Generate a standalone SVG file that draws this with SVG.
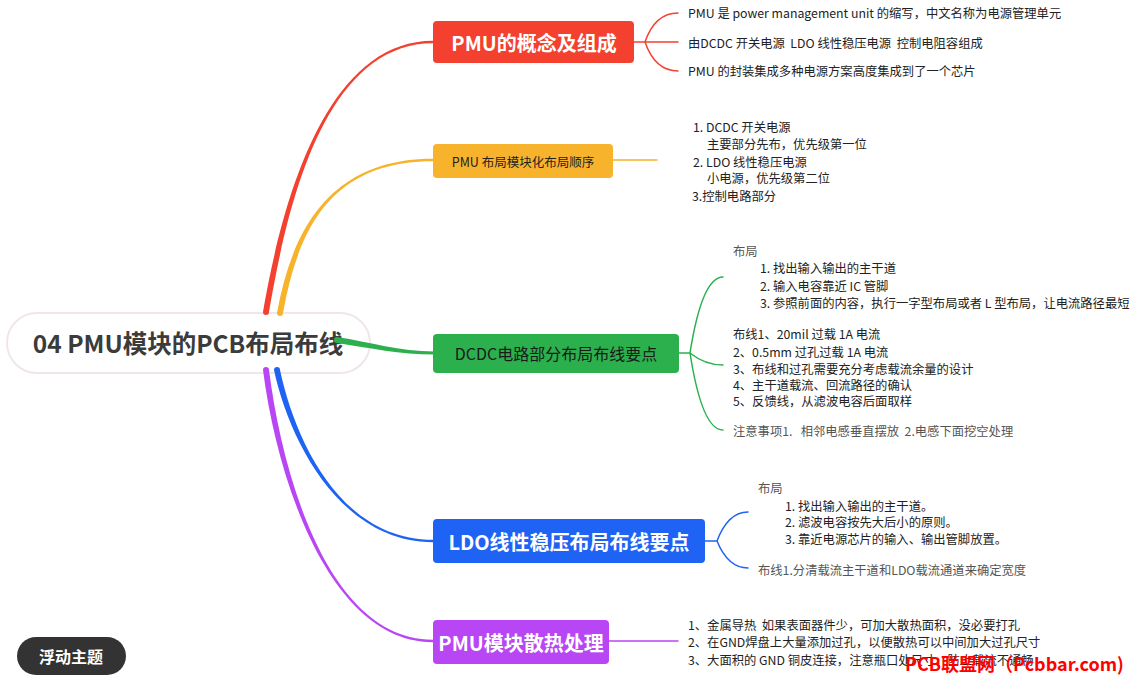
<svg xmlns="http://www.w3.org/2000/svg" width="1135" height="678" viewBox="0 0 1135 678">
<style>
text{font-family:'Noto Sans CJK SC','Noto Sans',sans-serif;dominant-baseline:central;white-space:pre}
.s{font-size:12.3px;fill:#222}
.h{font-size:12.3px;fill:#555}
.nt{font-size:20px;font-weight:bold;fill:#fff;text-anchor:middle}
.sub{fill:none;stroke-width:1.5;stroke-linecap:round}
</style>
<rect width="1135" height="678" fill="#fff"/>
<g id="central">
<rect x="7" y="313" width="363" height="60" rx="30" fill="#fff" stroke="#efe6e8" stroke-width="2"/>
<text x="188" y="342" font-size="24.5" font-weight="bold" fill="#3b3b3b" text-anchor="middle">04 PMU模块的PCB布局布线</text>
</g>
<g id="connectors">
<path d="M263,312 C279,220 320,40.8 433,40.8 L433,43.2 C320,43.2 285,220 269,312 A3,3 0 0 1 263,312 Z" fill="#f4402f"/>
<path d="M277,313 C292,230 330,158.8 433,158.8 L433,161.2 C330,161.2 298,230 283,313 A3,3 0 0 1 277,313 Z" fill="#f7b32b"/>
<path d="M337,337 C370,342 400,351.5 434,351.5 L434,354.5 C400,354.5 370,348 337,343 A3,3 0 0 1 337,337 Z" fill="#2bb04d"/>
<path d="M274,370 C289,440 340,542.2 433,542.2 L433,539.8 C340,539.8 295,440 280,370 A3,3 0 0 0 274,370 Z" fill="#1f63f4"/>
<path d="M263,370 C277,480 330,642.2 433,642.2 L433,639.8 C330,639.8 283,480 269,370 A3,3 0 0 0 263,370 Z" fill="#b946f4"/>
<g stroke="#f4402f" class="sub">
<path d="M634,42 L645,42 M645,42 Q655,13 678,13 M645,42 L678,42 M645,42 Q655,71 678,71"/>
</g>
<path class="sub" stroke="#f7b32b" d="M613,160 L657,160"/>
<g stroke="#2bb04d" class="sub">
<path d="M679,353 L690,353 M690,353 Q702,277 723,277 M690,353 Q705,365 723,365 M690,353 Q702,430 723,430"/>
</g>
<g stroke="#1f63f4" class="sub">
<path d="M705,541 L717,541 M717,541 Q728,512 748,512 M717,541 Q728,568 748,568"/>
</g>
<path class="sub" stroke="#b946f4" d="M609,641 L678,641"/>
</g>
<g id="node-pmu-concept">
<rect x="433" y="21" width="201" height="42" rx="4" fill="#f4402f"/>
<text class="nt" x="534" y="42">PMU的概念及组成</text>
</g>
<g id="pmu-concept-details">
<text class="s" x="688" y="13">PMU 是 power management unit 的缩写，中文名称为电源管理单元</text>
<text class="s" x="688" y="43">由DCDC 开关电源  LDO 线性稳压电源  控制电阻容组成</text>
<text class="s" x="688" y="71">PMU 的封装集成多种电源方案高度集成到了一个芯片</text>
</g>
<g id="node-layout-order">
<rect x="433" y="144" width="180" height="34" rx="4" fill="#f7b32b"/>
<text x="523" y="161" font-size="12.5" fill="#222" text-anchor="middle">PMU 布局模块化布局顺序</text>
</g>
<g id="layout-order-details">
<text class="s" x="693" y="127">1. DCDC 开关电源</text>
<text class="s" x="707" y="144">主要部分先布，优先级第一位</text>
<text class="s" x="693" y="162">2. LDO 线性稳压电源</text>
<text class="s" x="707" y="178">小电源，优先级第二位</text>
<text class="s" x="692" y="196">3.控制电路部分</text>
</g>
<g id="node-dcdc">
<rect x="433" y="334" width="246" height="39" rx="4" fill="#2bb04d"/>
<text x="556" y="353" font-size="16" fill="#1a1a1a" text-anchor="middle">DCDC电路部分布局布线要点</text>
</g>
<g id="dcdc-details">
<text class="h" x="733" y="251">布局</text>
<text class="s" x="760" y="268">1. 找出输入输出的主干道</text>
<text class="s" x="760" y="286">2. 输入电容靠近 IC 管脚</text>
<text class="s" x="760" y="303">3. 参照前面的内容，执行一字型布局或者 L 型布局，让电流路径最短</text>
<text class="s" x="733" y="334">布线1、20mil 过载 1A 电流</text>
<text class="s" x="733" y="352">2、0.5mm 过孔过载 1A 电流</text>
<text class="s" x="733" y="369">3、布线和过孔需要充分考虑载流余量的设计</text>
<text class="s" x="733" y="385">4、主干道载流、回流路径的确认</text>
<text class="s" x="733" y="401">5、反馈线，从滤波电容后面取样</text>
<text class="h" x="733" y="431">注意事项1.   相邻电感垂直摆放  2.电感下面挖空处理</text>
</g>
<g id="node-ldo">
<rect x="433" y="519" width="272" height="44" rx="4" fill="#1f63f4"/>
<text class="nt" x="569" y="541">LDO线性稳压布局布线要点</text>
</g>
<g id="ldo-details">
<text class="h" x="758" y="488">布局</text>
<text class="s" x="785" y="506">1. 找出输入输出的主干道。</text>
<text class="s" x="785" y="522">2. 滤波电容按先大后小的原则。</text>
<text class="s" x="785" y="539">3. 靠近电源芯片的输入、输出管脚放置。</text>
<text class="h" x="758" y="570">布线1.分清载流主干道和LDO载流通道来确定宽度</text>
</g>
<g id="node-heat">
<rect x="433" y="620" width="176" height="44" rx="4" fill="#b946f4"/>
<text class="nt" x="521" y="642">PMU模块散热处理</text>
</g>
<g id="heat-details">
<text class="s" x="688" y="625">1、金属导热  如果表面器件少，可加大散热面积，没必要打孔</text>
<text class="s" x="688" y="642">2、在GND焊盘上大量添加过孔，以便散热可以中间加大过孔尺寸</text>
<text class="s" x="688" y="660">3、大面积的 GND 铜皮连接，注意瓶口处尺寸，防止载流不通畅</text>
</g>
<g id="floating-topic">
<rect x="17" y="637" width="109" height="38" rx="19" fill="#333"/>
<text x="71" y="656" font-size="16" font-weight="bold" fill="#fff" text-anchor="middle">浮动主题</text>
</g>
<text x="905" y="663" font-family="'Liberation Mono','Noto Sans CJK SC',monospace" font-size="18" font-weight="bold" fill="#f00">PCB联盟网（Pcbbar.com)</text>
</svg>
